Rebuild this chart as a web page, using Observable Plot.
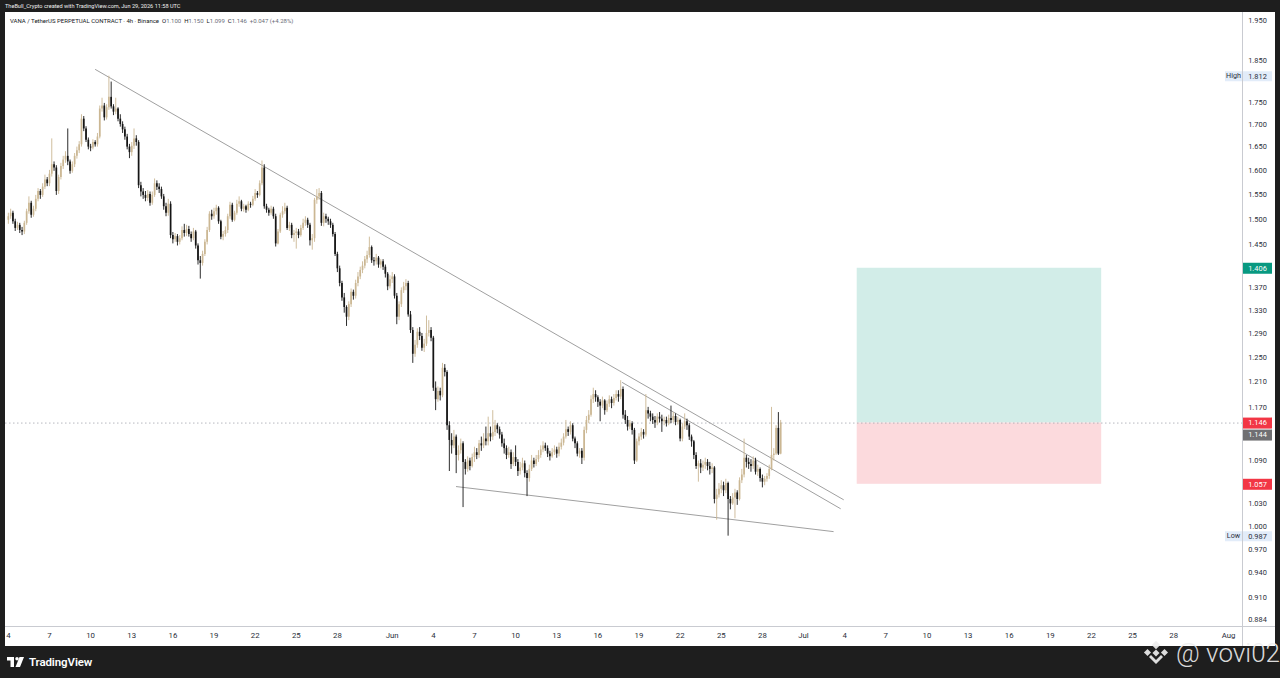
<!DOCTYPE html>
<html><head><meta charset="utf-8">
<script src="https://cdn.jsdelivr.net/npm/d3@7"></script>
<script src="https://cdn.jsdelivr.net/npm/@observablehq/plot@0.6"></script>
<style>
html,body{margin:0;padding:0;background:#1e1e1e;width:1280px;height:678px;overflow:hidden;font-family:Roboto,"Liberation Sans",sans-serif}
#top{position:absolute;left:5px;top:0;height:12px;line-height:12px;font-size:5.6px;color:#f0f0f0;white-space:nowrap}
#chart{position:absolute;left:5px;top:12px;width:1270px;height:634px;background:#fff}
#legend{position:absolute;left:10px;top:17px;font-size:6px;color:#131722;white-space:nowrap}
#legend .v{color:#6a6d78}
#foot{position:absolute;left:7px;top:654px;height:16px;display:flex;align-items:center;color:#fff;font-size:11.5px;font-weight:600;letter-spacing:-0.1px}
#wm{position:absolute;left:1142px;top:641px;height:24px;line-height:24px;display:flex;align-items:center;color:rgba(238,238,238,0.92);font-size:26px;font-weight:300;white-space:nowrap}
</style></head>
<body>
<div id="top">TheBull_Crypto created with TradingView.com, Jun 29, 2026 11:58 UTC</div>
<div id="chart"></div>
<div id="legend">VANA / TetherUS PERPETUAL CONTRACT · 4h · Binance &nbsp;O<span class="v">1.100</span> &nbsp;H<span class="v">1.150</span> &nbsp;L<span class="v">1.099</span> &nbsp;C<span class="v">1.146</span> &nbsp;<span class="v">+0.047 (+4.28%)</span></div>
<div id="foot"><svg width="18" height="10" viewBox="0 0 36 20" style="margin-right:4px"><path d="M0 0h14v20H7V7H0z" fill="#fff"/><circle cx="20" cy="3.5" r="3.5" fill="#fff"/><path d="M25 0h9l-8 20h-9z" fill="#fff"/></svg>TradingView</div>
<div id="wm"><svg width="28" height="24" viewBox="0 0 28 24" style="margin-right:6px"><g fill="rgba(238,238,238,0.92)"><rect x="11" y="1" width="6" height="6" transform="rotate(45 14 4)"/><rect x="3" y="9" width="5" height="5" transform="rotate(45 5.5 11.5)"/><rect x="20" y="9" width="5" height="5" transform="rotate(45 22.5 11.5)"/><rect x="11.5" y="9.5" width="5" height="5" transform="rotate(45 14 12)"/><path d="M7 16l7 7 7-7-2-2-5 5-5-5z"/></g></svg>@ vovi02</div>
<script>
// 4h candles starting 2026-05-04 00:00 UTC; open = previous close
const firstCandle = "2026-05-04T00:00:00Z";
const firstOpen = 1.498;
const closes = [
1.505,1.512,1.495,1.482,1.488,1.478,
1.475,1.492,1.515,1.532,1.508,1.520,
1.540,1.556,1.548,1.565,1.580,1.572,
1.592,1.612,1.605,1.556,1.585,1.608,
1.622,1.630,1.618,1.598,1.612,1.630,
1.642,1.655,1.712,1.690,1.665,1.650,
1.648,1.660,1.655,1.672,1.735,1.742,
1.715,1.738,1.762,1.740,1.728,1.735,
1.712,1.700,1.688,1.672,1.650,1.638,
1.652,1.668,1.660,1.568,1.555,1.548,
1.542,1.550,1.532,1.548,1.572,1.565,
1.560,1.545,1.525,1.512,1.530,1.468,
1.460,1.466,1.455,1.462,1.478,1.472,
1.480,1.470,1.462,1.475,1.448,1.420,
1.415,1.432,1.455,1.478,1.510,1.505,
1.515,1.522,1.495,1.465,1.470,1.478,
1.505,1.528,1.498,1.512,1.530,1.535,
1.520,1.525,1.518,1.530,1.528,1.540,
1.552,1.548,1.572,1.605,1.525,1.518,
1.512,1.520,1.505,1.452,1.475,1.508,
1.515,1.522,1.482,1.488,1.468,1.472,
1.475,1.468,1.482,1.492,1.498,1.488,
1.458,1.462,1.538,1.545,1.552,1.492,
1.505,1.500,1.495,1.488,1.470,1.432,
1.405,1.378,1.352,1.335,1.318,1.340,
1.362,1.355,1.378,1.390,1.402,1.410,
1.422,1.430,1.445,1.420,1.418,1.425,
1.412,1.418,1.408,1.395,1.372,1.385,
1.390,1.355,1.318,1.340,1.365,1.372,
1.378,1.322,1.295,1.255,1.270,1.292,
1.285,1.265,1.272,1.290,1.295,1.282,
1.200,1.182,1.195,1.188,1.232,1.225,
1.142,1.120,1.112,1.125,1.098,1.105,
1.115,1.088,1.078,1.090,1.082,1.095,
1.102,1.098,1.115,1.112,1.122,1.118,
1.130,1.125,1.132,1.142,1.136,1.128,
1.115,1.108,1.098,1.102,1.085,1.095,
1.088,1.075,1.080,1.086,1.072,1.065,
1.078,1.090,1.085,1.092,1.098,1.106,
1.112,1.108,1.100,1.096,1.102,1.106,
1.100,1.110,1.116,1.125,1.136,1.132,
1.142,1.122,1.115,1.100,1.104,1.094,
1.135,1.150,1.158,1.182,1.190,1.185,
1.178,1.172,1.180,1.165,1.175,1.182,
1.176,1.184,1.190,1.186,1.198,1.158,
1.150,1.140,1.145,1.135,1.090,1.118,
1.125,1.132,1.128,1.165,1.160,1.155,
1.150,1.146,1.155,1.152,1.148,1.150,
1.145,1.153,1.150,1.156,1.147,1.150,
1.122,1.140,1.148,1.142,1.125,1.118,
1.098,1.082,1.086,1.080,1.084,1.088,
1.082,1.078,1.080,1.036,1.042,1.050,
1.055,1.048,1.058,1.036,1.030,1.038,
1.045,1.036,1.062,1.070,1.094,1.088,
1.085,1.082,1.090,1.074,1.078,1.065,
1.060,1.064,1.068,1.078,1.098,1.100,
1.138,1.100,1.146];
const highs = [
1.512,1.520,1.516,1.500,1.494,1.492,
1.484,1.496,1.520,1.545,1.536,1.526,
1.548,1.562,1.560,1.572,1.590,1.585,
1.600,1.668,1.618,1.610,1.590,1.615,
1.630,1.640,1.690,1.622,1.618,1.636,
1.650,1.662,1.722,1.718,1.695,1.670,
1.656,1.666,1.664,1.680,1.742,1.760,
1.748,1.745,1.812,1.798,1.745,1.760,
1.738,1.722,1.706,1.694,1.678,1.656,
1.660,1.690,1.675,1.664,1.575,1.562,
1.556,1.558,1.555,1.555,1.582,1.578,
1.572,1.565,1.550,1.532,1.540,1.535,
1.474,1.472,1.470,1.468,1.485,1.490,
1.488,1.486,1.475,1.482,1.478,1.452,
1.428,1.438,1.460,1.484,1.515,1.518,
1.522,1.528,1.525,1.498,1.476,1.485,
1.510,1.534,1.532,1.516,1.538,1.545,
1.538,1.530,1.528,1.535,1.534,1.546,
1.560,1.556,1.578,1.620,1.612,1.530,
1.522,1.526,1.524,1.510,1.480,1.512,
1.525,1.532,1.526,1.494,1.492,1.478,
1.482,1.480,1.488,1.500,1.505,1.502,
1.492,1.470,1.542,1.560,1.562,1.556,
1.512,1.510,1.504,1.500,1.492,1.474,
1.436,1.410,1.382,1.360,1.338,1.345,
1.368,1.366,1.384,1.398,1.408,1.418,
1.428,1.438,1.465,1.448,1.426,1.432,
1.428,1.422,1.422,1.412,1.398,1.392,
1.398,1.394,1.360,1.345,1.370,1.380,
1.385,1.382,1.328,1.300,1.278,1.298,
1.300,1.290,1.280,1.320,1.312,1.300,
1.285,1.210,1.202,1.200,1.240,1.238,
1.228,1.148,1.130,1.135,1.128,1.112,
1.122,1.118,1.092,1.096,1.094,1.100,
1.110,1.108,1.120,1.125,1.130,1.140,
1.155,1.140,1.165,1.150,1.145,1.140,
1.132,1.122,1.112,1.110,1.106,1.102,
1.112,1.092,1.088,1.094,1.090,1.076,
1.084,1.098,1.094,1.098,1.105,1.112,
1.118,1.116,1.112,1.104,1.108,1.112,
1.110,1.116,1.122,1.130,1.150,1.140,
1.148,1.145,1.125,1.118,1.108,1.108,
1.140,1.156,1.165,1.188,1.200,1.196,
1.188,1.182,1.186,1.182,1.180,1.188,
1.186,1.190,1.196,1.196,1.212,1.202,
1.165,1.156,1.150,1.148,1.138,1.122,
1.130,1.138,1.136,1.190,1.170,1.164,
1.160,1.156,1.160,1.162,1.158,1.155,
1.155,1.158,1.172,1.162,1.160,1.155,
1.152,1.145,1.160,1.152,1.145,1.128,
1.120,1.102,1.090,1.092,1.090,1.094,
1.092,1.088,1.086,1.082,1.050,1.058,
1.062,1.060,1.064,1.060,1.040,1.044,
1.050,1.048,1.066,1.078,1.122,1.098,
1.094,1.092,1.096,1.094,1.084,1.080,
1.070,1.068,1.072,1.084,1.170,1.108,
1.142,1.162,1.150];
const lows = [
1.490,1.500,1.490,1.476,1.478,1.472,
1.468,1.470,1.488,1.510,1.502,1.504,
1.515,1.535,1.540,1.544,1.560,1.566,
1.566,1.586,1.598,1.548,1.550,1.580,
1.602,1.615,1.610,1.592,1.594,1.606,
1.624,1.636,1.650,1.684,1.660,1.644,
1.640,1.644,1.650,1.650,1.668,1.728,
1.708,1.710,1.732,1.735,1.720,1.722,
1.706,1.694,1.680,1.665,1.644,1.625,
1.630,1.645,1.652,1.562,1.545,1.540,
1.535,1.536,1.526,1.528,1.544,1.558,
1.552,1.540,1.518,1.505,1.506,1.462,
1.452,1.455,1.448,1.450,1.458,1.465,
1.466,1.465,1.455,1.458,1.442,1.412,
1.386,1.410,1.428,1.450,1.474,1.498,
1.500,1.508,1.490,1.460,1.458,1.465,
1.472,1.500,1.494,1.495,1.508,1.524,
1.515,1.514,1.512,1.515,1.522,1.525,
1.536,1.542,1.545,1.568,1.520,1.512,
1.506,1.508,1.500,1.446,1.450,1.472,
1.502,1.510,1.478,1.476,1.462,1.455,
1.442,1.462,1.465,1.478,1.486,1.482,
1.448,1.440,1.455,1.530,1.538,1.486,
1.485,1.492,1.488,1.482,1.465,1.428,
1.398,1.372,1.346,1.325,1.302,1.312,
1.335,1.348,1.350,1.372,1.385,1.396,
1.405,1.415,1.425,1.415,1.410,1.412,
1.406,1.405,1.402,1.388,1.365,1.368,
1.378,1.350,1.305,1.312,1.335,1.360,
1.365,1.318,1.290,1.240,1.250,1.265,
1.278,1.260,1.258,1.268,1.284,1.276,
1.195,1.165,1.178,1.180,1.185,1.218,
1.135,1.075,1.100,1.108,1.072,1.090,
1.100,1.025,1.070,1.074,1.076,1.080,
1.088,1.092,1.094,1.104,1.108,1.112,
1.112,1.118,1.120,1.126,1.130,1.122,
1.110,1.100,1.092,1.094,1.078,1.082,
1.082,1.068,1.070,1.076,1.066,1.040,
1.060,1.075,1.080,1.082,1.088,1.094,
1.102,1.104,1.095,1.090,1.094,1.098,
1.094,1.096,1.106,1.112,1.122,1.126,
1.128,1.118,1.108,1.096,1.094,1.085,
1.090,1.130,1.145,1.155,1.176,1.178,
1.170,1.148,1.168,1.158,1.162,1.170,
1.168,1.172,1.180,1.178,1.182,1.152,
1.144,1.134,1.136,1.128,1.085,1.088,
1.112,1.120,1.122,1.125,1.152,1.148,
1.144,1.138,1.142,1.146,1.132,1.142,
1.140,1.142,1.145,1.146,1.142,1.143,
1.118,1.118,1.136,1.135,1.120,1.110,
1.092,1.078,1.060,1.072,1.075,1.078,
1.076,1.070,1.072,1.030,1.008,1.038,
1.044,1.040,1.044,0.987,1.022,1.028,
1.010,1.028,1.034,1.058,1.066,1.080,
1.078,1.074,1.078,1.070,1.068,1.060,
1.052,1.055,1.060,1.064,1.076,1.090,
1.098,1.098,1.099];

const yTicks = [1.95,1.85,1.75,1.7,1.65,1.6,1.55,1.5,1.45,1.37,1.33,1.29,1.25,1.21,1.17,1.09,1.03,1.0,0.97,0.94,0.91,0.884];
const xTickDates = ["2026-05-04","2026-05-07","2026-05-10","2026-05-13","2026-05-16","2026-05-19","2026-05-22","2026-05-25","2026-05-28",
"2026-06-01","2026-06-04","2026-06-07","2026-06-10","2026-06-13","2026-06-16","2026-06-19","2026-06-22","2026-06-25","2026-06-28",
"2026-07-01","2026-07-04","2026-07-07","2026-07-10","2026-07-13","2026-07-16","2026-07-19","2026-07-22","2026-07-25","2026-07-28","2026-08-01"];
const xTickLabels = ["4","7","10","13","16","19","22","25","28","Jun","4","7","10","13","16","19","22","25","28","Jul","4","7","10","13","16","19","22","25","28","Aug"];

// trend lines (time, price)
const upperLine = [{t:"2026-05-10T08:30:00Z", p:1.828},{t:"2026-07-03T21:50:00Z", p:1.0358}];
const innerLine = [{t:"2026-06-17T19:00:00Z", p:1.209},{t:"2026-07-03T16:30:00Z", p:1.0236}];
const lowerLine = [{t:"2026-06-05T16:20:00Z", p:1.0538},{t:"2026-07-03T04:00:00Z", p:0.993}];

// long position tool
const position = {start:"2026-07-04T22:00:00Z", end:"2026-07-22T18:00:00Z", entry:1.146, target:1.406, stop:1.057};
const highLow = [{name:"High", p:1.812},{name:"Low", p:0.987}];
const priceLabels = [
 {p:1.406, label:"1.406", kind:"target"},
 {p:1.146, label:"1.146", kind:"last"},
 {p:1.057, label:"1.057", kind:"stop"}];
const markLabel = [{p:1.146, label:"1.144", kind:"mark"}];

const labelBg = {target:"#089981", last:"#f23645", mark:"#6f6f72", stop:"#f23645"};
const UP = "#cbb793", DOWN = "#151515";
const t0 = Date.parse(firstCandle);
const candles = closes.map((c, i) => {
  const o = i ? closes[i-1] : firstOpen;
  return {t: new Date(t0 + i*4*3600e3), o, c, h: Math.max(highs[i], o, c), l: Math.min(lows[i], o, c), col: c >= o ? UP : DOWN};
});
const parse = (d) => ({t: new Date(d.t), p: d.p});
const fmt = d3.format(".3f");
const W = 1270, H = 634, MR = 33, MB = 20;

const chart = Plot.plot({
  width: W, height: H, marginLeft: 0, marginRight: MR, marginTop: 0, marginBottom: MB,
  x: {type: "utc", domain: [new Date("2026-05-03T19:00:00Z"), new Date("2026-08-02T00:30:00Z")], axis: null},
  y: {type: "log", domain: [0.876, 1.971], axis: null},
  style: {fontFamily: "Roboto, 'Liberation Sans', sans-serif", background: "#fff", overflow: "visible"},
  marks: [
    Plot.rect([position], {x1: d => new Date(d.start), x2: d => new Date(d.end), y1: "entry", y2: "target", fill: "#d2ede8"}),
    Plot.rect([position], {x1: d => new Date(d.start), x2: d => new Date(d.end), y1: "stop", y2: "entry", fill: "#fcdadd"}),
    Plot.ruleY([position.entry], {stroke: "#a3a6ae", strokeDasharray: "1.5,2.5", strokeWidth: 0.8}),
    Plot.line(upperLine.map(parse), {x: "t", y: "p", stroke: "#a0a0a0", strokeWidth: 1}),
    Plot.line(innerLine.map(parse), {x: "t", y: "p", stroke: "#a0a0a0", strokeWidth: 1}),
    Plot.line(lowerLine.map(parse), {x: "t", y: "p", stroke: "#a0a0a0", strokeWidth: 1}),
    Plot.ruleX(candles, {x: "t", y1: "l", y2: "h", stroke: "col", strokeWidth: 0.9}),
    Plot.ruleX(candles, {x: "t", y1: "o", y2: "c", stroke: "col", strokeWidth: 1.7}),
    // price axis labels
    Plot.text(yTicks, {y: d => d, frameAnchor: "right", dx: 15, text: d => fmt(d), fontSize: 7.4, fill: "#2a2e39", textAnchor: "middle"}),
    Plot.ruleY(highLow, {y: "p", stroke: "#e2ecf9", strokeWidth: 10, insetLeft: W - MR - 17, insetRight: -30}),
    Plot.text(highLow, {y: "p", frameAnchor: "right", dx: -9, text: "name", fontSize: 7.2, fill: "#2a2e39", textAnchor: "middle"}),
    Plot.text(highLow, {y: "p", frameAnchor: "right", dx: 15, text: d => fmt(d.p), fontSize: 7.4, fill: "#2a2e39", textAnchor: "middle"}),
    Plot.ruleY(priceLabels, {y: "p", stroke: d => labelBg[d.kind], strokeWidth: 11, insetLeft: W - MR + 1, insetRight: -30}),
    Plot.ruleY(markLabel, {y: "p", stroke: d => labelBg[d.kind], strokeWidth: 11, insetLeft: W - MR + 1, insetRight: -30, dy: 12}),
    Plot.text(priceLabels, {y: "p", frameAnchor: "right", dx: 15, text: "label", fontSize: 7.4, fill: "#fff", textAnchor: "middle"}),
    Plot.text(markLabel, {y: "p", frameAnchor: "right", dx: 15, dy: 12, text: "label", fontSize: 7.4, fill: "#fff", textAnchor: "middle"}),
    // time axis labels
    Plot.text(xTickDates, {x: d => new Date(d + "T00:00:00Z"), frameAnchor: "bottom", dy: 11, text: (d, i) => xTickLabels[i], fontSize: 7.8, fill: "#2a2e39"})
  ]
});
document.getElementById("chart").appendChild(chart);
// pane borders
const svg = d3.select(chart);
svg.append("line").attr("x1", 0).attr("x2", W).attr("y1", H - MB + 0.5).attr("y2", H - MB + 0.5).attr("stroke", "#c9cbd1");
svg.append("line").attr("x1", W - MR + 0.5).attr("x2", W - MR + 0.5).attr("y1", 0).attr("y2", H).attr("stroke", "#c9cbd1");
</script>
</body></html>
